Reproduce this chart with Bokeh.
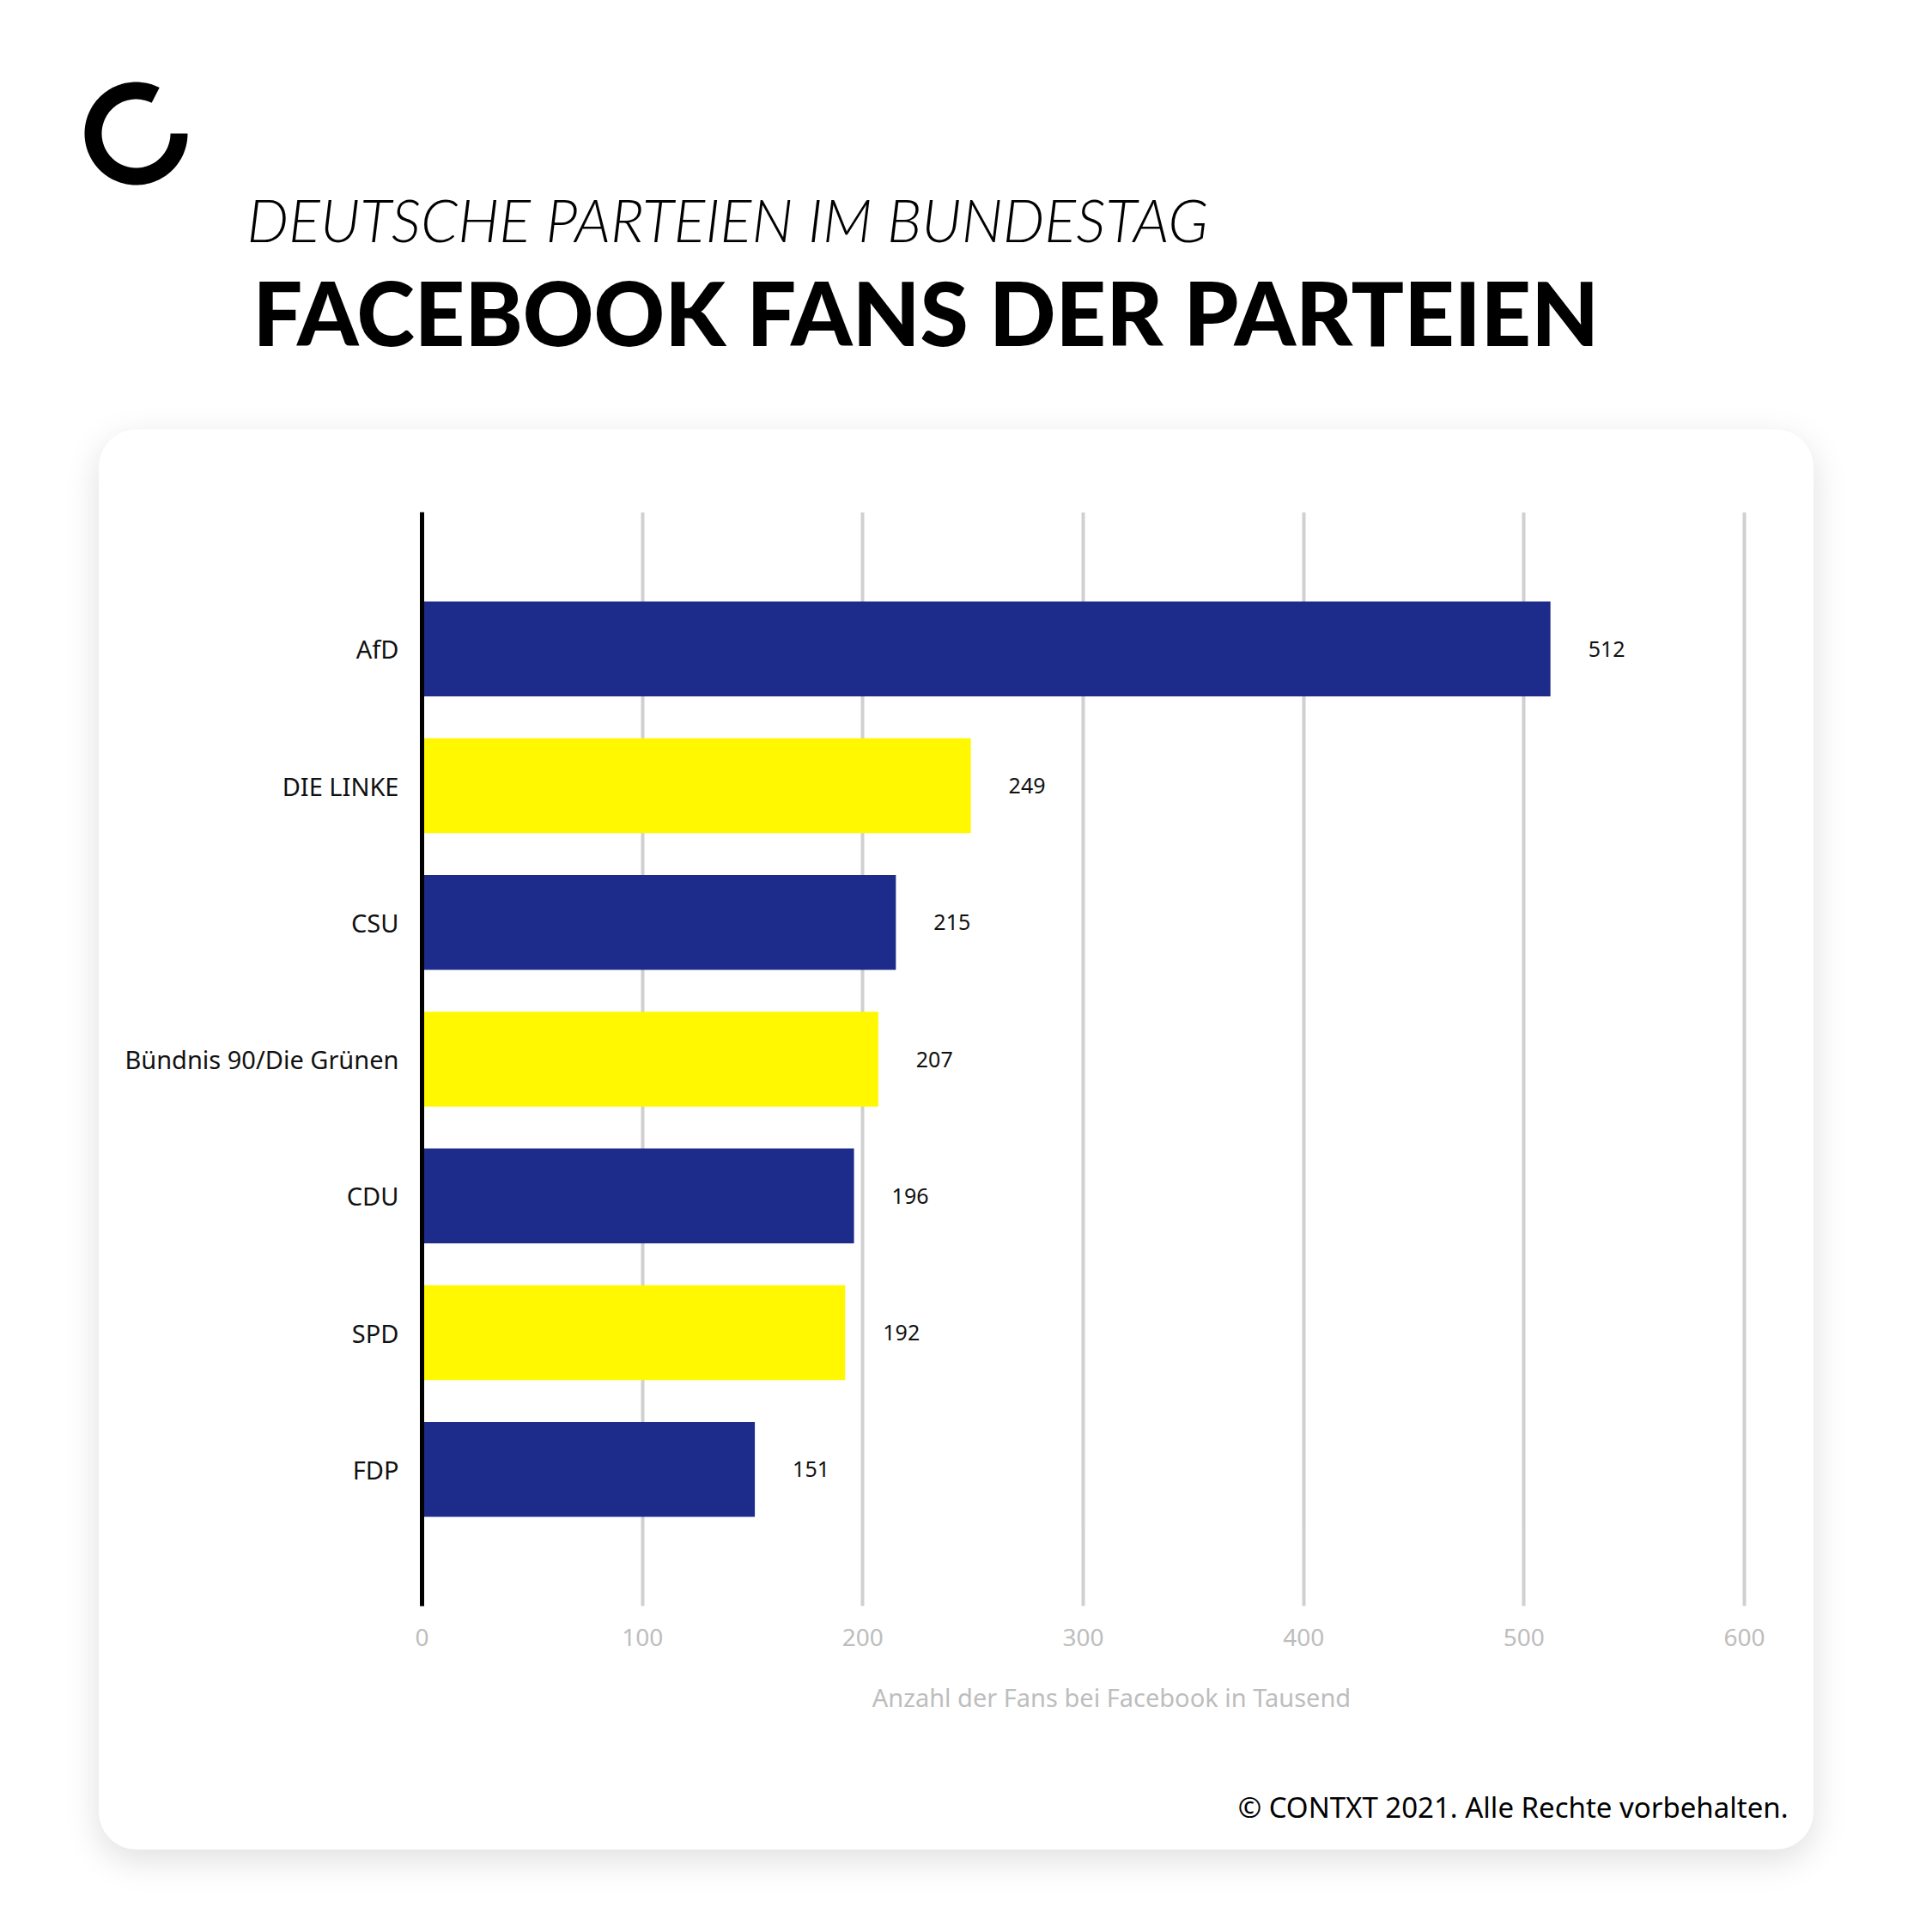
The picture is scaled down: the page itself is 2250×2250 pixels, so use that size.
import numpy as np
from bokeh.plotting import figure
from bokeh.layouts import column
from bokeh.models import FactorRange, Range1d, FixedTicker, ColumnDataSource, Title
from bokeh.embed import file_html
from bokeh.resources import INLINE
from bokeh.core.properties import value

# ---------------- data ----------------
parties = ["AfD", "DIE LINKE", "CSU", "Bündnis 90/Die Grünen", "CDU", "SPD", "FDP"]
fans = [512, 249, 215, 207, 196, 192, 151]
x_ticks = [0, 100, 200, 300, 400, 500, 600]
subtitle = "DEUTSCHE PARTEIEN IM BUNDESTAG"
title = "FACEBOOK FANS DER PARTEIEN"
x_label = "Anzahl der Fans bei Facebook in Tausend"
credit = "© CONTXT 2021. Alle Rechte vorbehalten."

# ---------------- styles ----------------
NAVY = "#1d2c8a"
YELLOW = "#fff800"
bar_colors = [NAVY, YELLOW, NAVY, YELLOW, NAVY, YELLOW, NAVY]

PAGE_W = 2250
HEAD_H = 500            # header height (card starts below)
CARD_X = 115            # card left offset
CARD_W, CARD_H = 1997, 1654
# frame inside the card
FL, FT, FR, FB = 376, 96, 1982, 1370
X_MAX = 625.7           # frame extends a little past the last gridline


def no_align(fig):
    if "frame_align" in fig.properties():
        fig.frame_align = False


# ---------------- header: logo + titles ----------------
head = figure(width=PAGE_W, height=HEAD_H, x_range=Range1d(0, PAGE_W), y_range=Range1d(HEAD_H, 0),
              output_backend="svg", toolbar_location=None,
              x_axis_location=None, y_axis_location=None, min_border=0)
no_align(head)
head.outline_line_color = None
head.grid.visible = False
head.background_fill_color = "white"
head.border_fill_color = "white"

cx, cy, ro, ri = 158, 155, 60, 40
th = np.radians(np.linspace(63, 360, 160))
xs_logo = np.concatenate([cx + ro * np.cos(th), cx + ri * np.cos(th[::-1])])
ys_logo = np.concatenate([cy - ro * np.sin(th), cy - ri * np.sin(th[::-1])])
head.patch(xs_logo, ys_logo, fill_color="black", line_color=None)

head.text(x=[287], y=[255], text=[subtitle], text_font=value("'Lato Light', Lato"), text_font_style="italic",
          text_font_size="68.6px", text_color="black", text_align="left", text_baseline="alphabetic")
head.text(x=[294], y=[363], text=[title], text_font=value("'Lato Black', Lato"), text_font_style="bold",
          text_font_size="102px", text_color="black", text_align="left", text_baseline="alphabetic")

# ---------------- card: chart ----------------
p = figure(width=CARD_W, height=CARD_H,
           y_range=FactorRange(factors=parties[::-1], range_padding=1 / 7),
           x_range=Range1d(0, X_MAX),
           output_backend="svg", toolbar_location=None,
           min_border_left=FL, min_border_right=CARD_W - FR,
           min_border_top=FT, min_border_bottom=CARD_H - FB,
           margin=(0, 0, 0, CARD_X),
           styles={"background-color": "white", "border-radius": "44px",
                   "box-shadow": "0px 12px 40px rgba(0,0,0,0.13)"})
no_align(p)
p.outline_line_color = None
p.background_fill_alpha = 0
p.border_fill_alpha = 0

src = ColumnDataSource(dict(party=parties, fans=fans, color=bar_colors,
                            label=[str(v) for v in fans]))
p.hbar(y="party", left=0, right="fans", height=0.694, fill_color="color", line_color=None, source=src)
p.text(x="fans", y="party", text="label", x_offset=44, text_align="left", text_baseline="middle",
       text_font=value("Noto Sans"), text_font_size="25px", text_color="#111111", source=src)

p.xaxis.ticker = FixedTicker(ticks=x_ticks)
p.xaxis.axis_line_color = None
p.xaxis.major_tick_line_color = None
p.xaxis.minor_tick_line_color = None
p.xaxis.major_tick_out = 0
p.xaxis.major_tick_in = 0
p.xaxis.major_label_standoff = 26
p.xaxis.major_label_text_font = "Noto Sans"
p.xaxis.major_label_text_font_size = "28px"
p.xaxis.major_label_text_color = "#bdbdbd"
p.xaxis.axis_label = x_label
p.xaxis.axis_label_standoff = 37
p.xaxis.axis_label_text_font = "Noto Sans"
p.xaxis.axis_label_text_font_style = "normal"
p.xaxis.axis_label_text_font_size = "29px"
p.xaxis.axis_label_text_color = "#bdbdbd"

p.yaxis.axis_line_color = "black"
p.yaxis.axis_line_width = 5
p.yaxis.major_tick_line_color = None
p.yaxis.minor_tick_line_color = None
p.yaxis.major_tick_out = 0
p.yaxis.major_tick_in = 0
p.yaxis.major_label_standoff = 27
p.yaxis.major_label_text_font = "Noto Sans"
p.yaxis.major_label_text_font_size = "29px"
p.yaxis.major_label_text_color = "#111111"

p.xgrid.ticker = FixedTicker(ticks=x_ticks)
p.xgrid.grid_line_color = "#d0d0d0"
p.xgrid.grid_line_width = 4
p.ygrid.grid_line_color = None

# blank spacer panel between the axis and the credit line
p.add_layout(Title(text=" ", standoff=33, text_font="Noto Sans", text_font_size="34px"), "below")
p.add_layout(Title(text=credit, align="right", vertical_align="bottom", offset=15, standoff=0,
                   text_font="Noto Sans", text_font_style="normal", text_font_size="33px",
                   text_color="black"), "below")

layout = column(head, p, spacing=0)
open("out.html", "w").write(file_html(layout, INLINE))
